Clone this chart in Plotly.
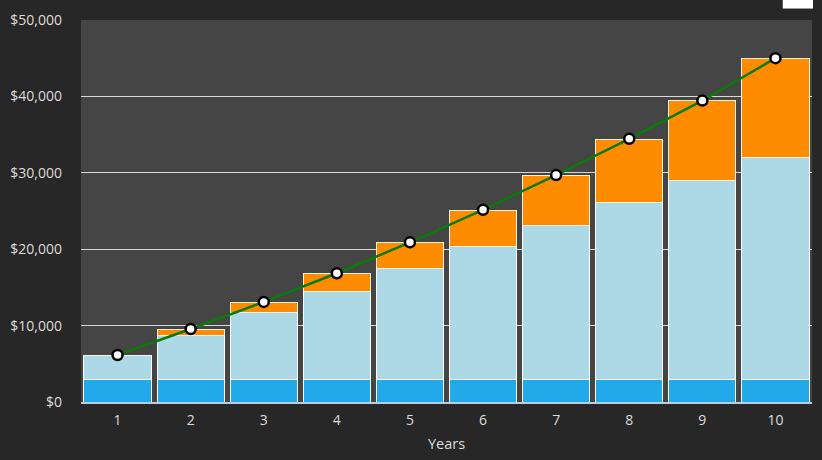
import plotly.graph_objects as go

years = [1, 2, 3, 4, 5, 6, 7, 8, 9, 10]
initial = [3000, 3000, 3000, 3000, 3000, 3000, 3000, 3000, 3000, 3000]
contributions = [3050, 5750, 8650, 11500, 14500, 17350, 20150, 23100, 26050, 28950]
interest = [80, 780, 1430, 2300, 3380, 4740, 6500, 8300, 10360, 13000]
total_line = [6150, 9550, 13100, 16850, 20900, 25150, 29700, 34450, 39450, 45000]
y_ticks = [0, 10000, 20000, 30000, 40000, 50000]
y_tick_labels = ["$0", "$10,000", "$20,000", "$30,000", "$40,000", "$50,000"]

font_family = "Open Sans, Noto Sans, sans-serif"

fig = go.Figure()
fig.add_trace(go.Bar(x=years, y=initial, name="Initial",
                     marker=dict(color="#22a9e9", line=dict(color="white", width=1))))
fig.add_trace(go.Bar(x=years, y=contributions, name="Contributions",
                     marker=dict(color="#add8e6", line=dict(color="white", width=1))))
fig.add_trace(go.Bar(x=years, y=interest, name="Interest",
                     marker=dict(color="#ff8c00", line=dict(color="#fff3e0", width=1))))
fig.add_trace(go.Scatter(x=years, y=total_line, name="Total", mode="lines+markers",
                         line=dict(color="#0a7a0a", width=2.5),
                         marker=dict(size=10, color="white", line=dict(color="black", width=2.5))))

fig.update_layout(
    width=822, height=460,
    barmode="stack", bargap=0.08,
    paper_bgcolor="#272727", plot_bgcolor="#454545",
    margin=dict(l=81, r=10, t=17, b=58),
    showlegend=False,
    font=dict(family=font_family, size=14, color="#dddddd"),
    xaxis=dict(
        tickmode="array", tickvals=years, ticktext=[str(y) for y in years],
        range=[0.5, 10.5], showgrid=False, zeroline=False,
        showline=True, linecolor="#b8cde0", linewidth=2,
        ticks="", ticklabelstandoff=4,
        title=dict(text="Years", font=dict(size=14.5, color="#dddddd"), standoff=11),
    ),
    yaxis=dict(
        range=[0, 50000], tickmode="array", tickvals=y_ticks, ticktext=y_tick_labels,
        showgrid=True, gridcolor="#d9d9d9", gridwidth=1, zeroline=False,
        showline=False, ticks="", ticklabelstandoff=18,
    ),
    shapes=[dict(type="rect", xref="paper", yref="paper",
                 x0=0.960, x1=1.0014, y0=1.030, y1=1.06,
                 fillcolor="white", line=dict(width=0))],
)

fig.write_html("out.html", config={"displayModeBar": False},
               post_script="document.body.style.margin='0';document.body.style.background='#272727';")
